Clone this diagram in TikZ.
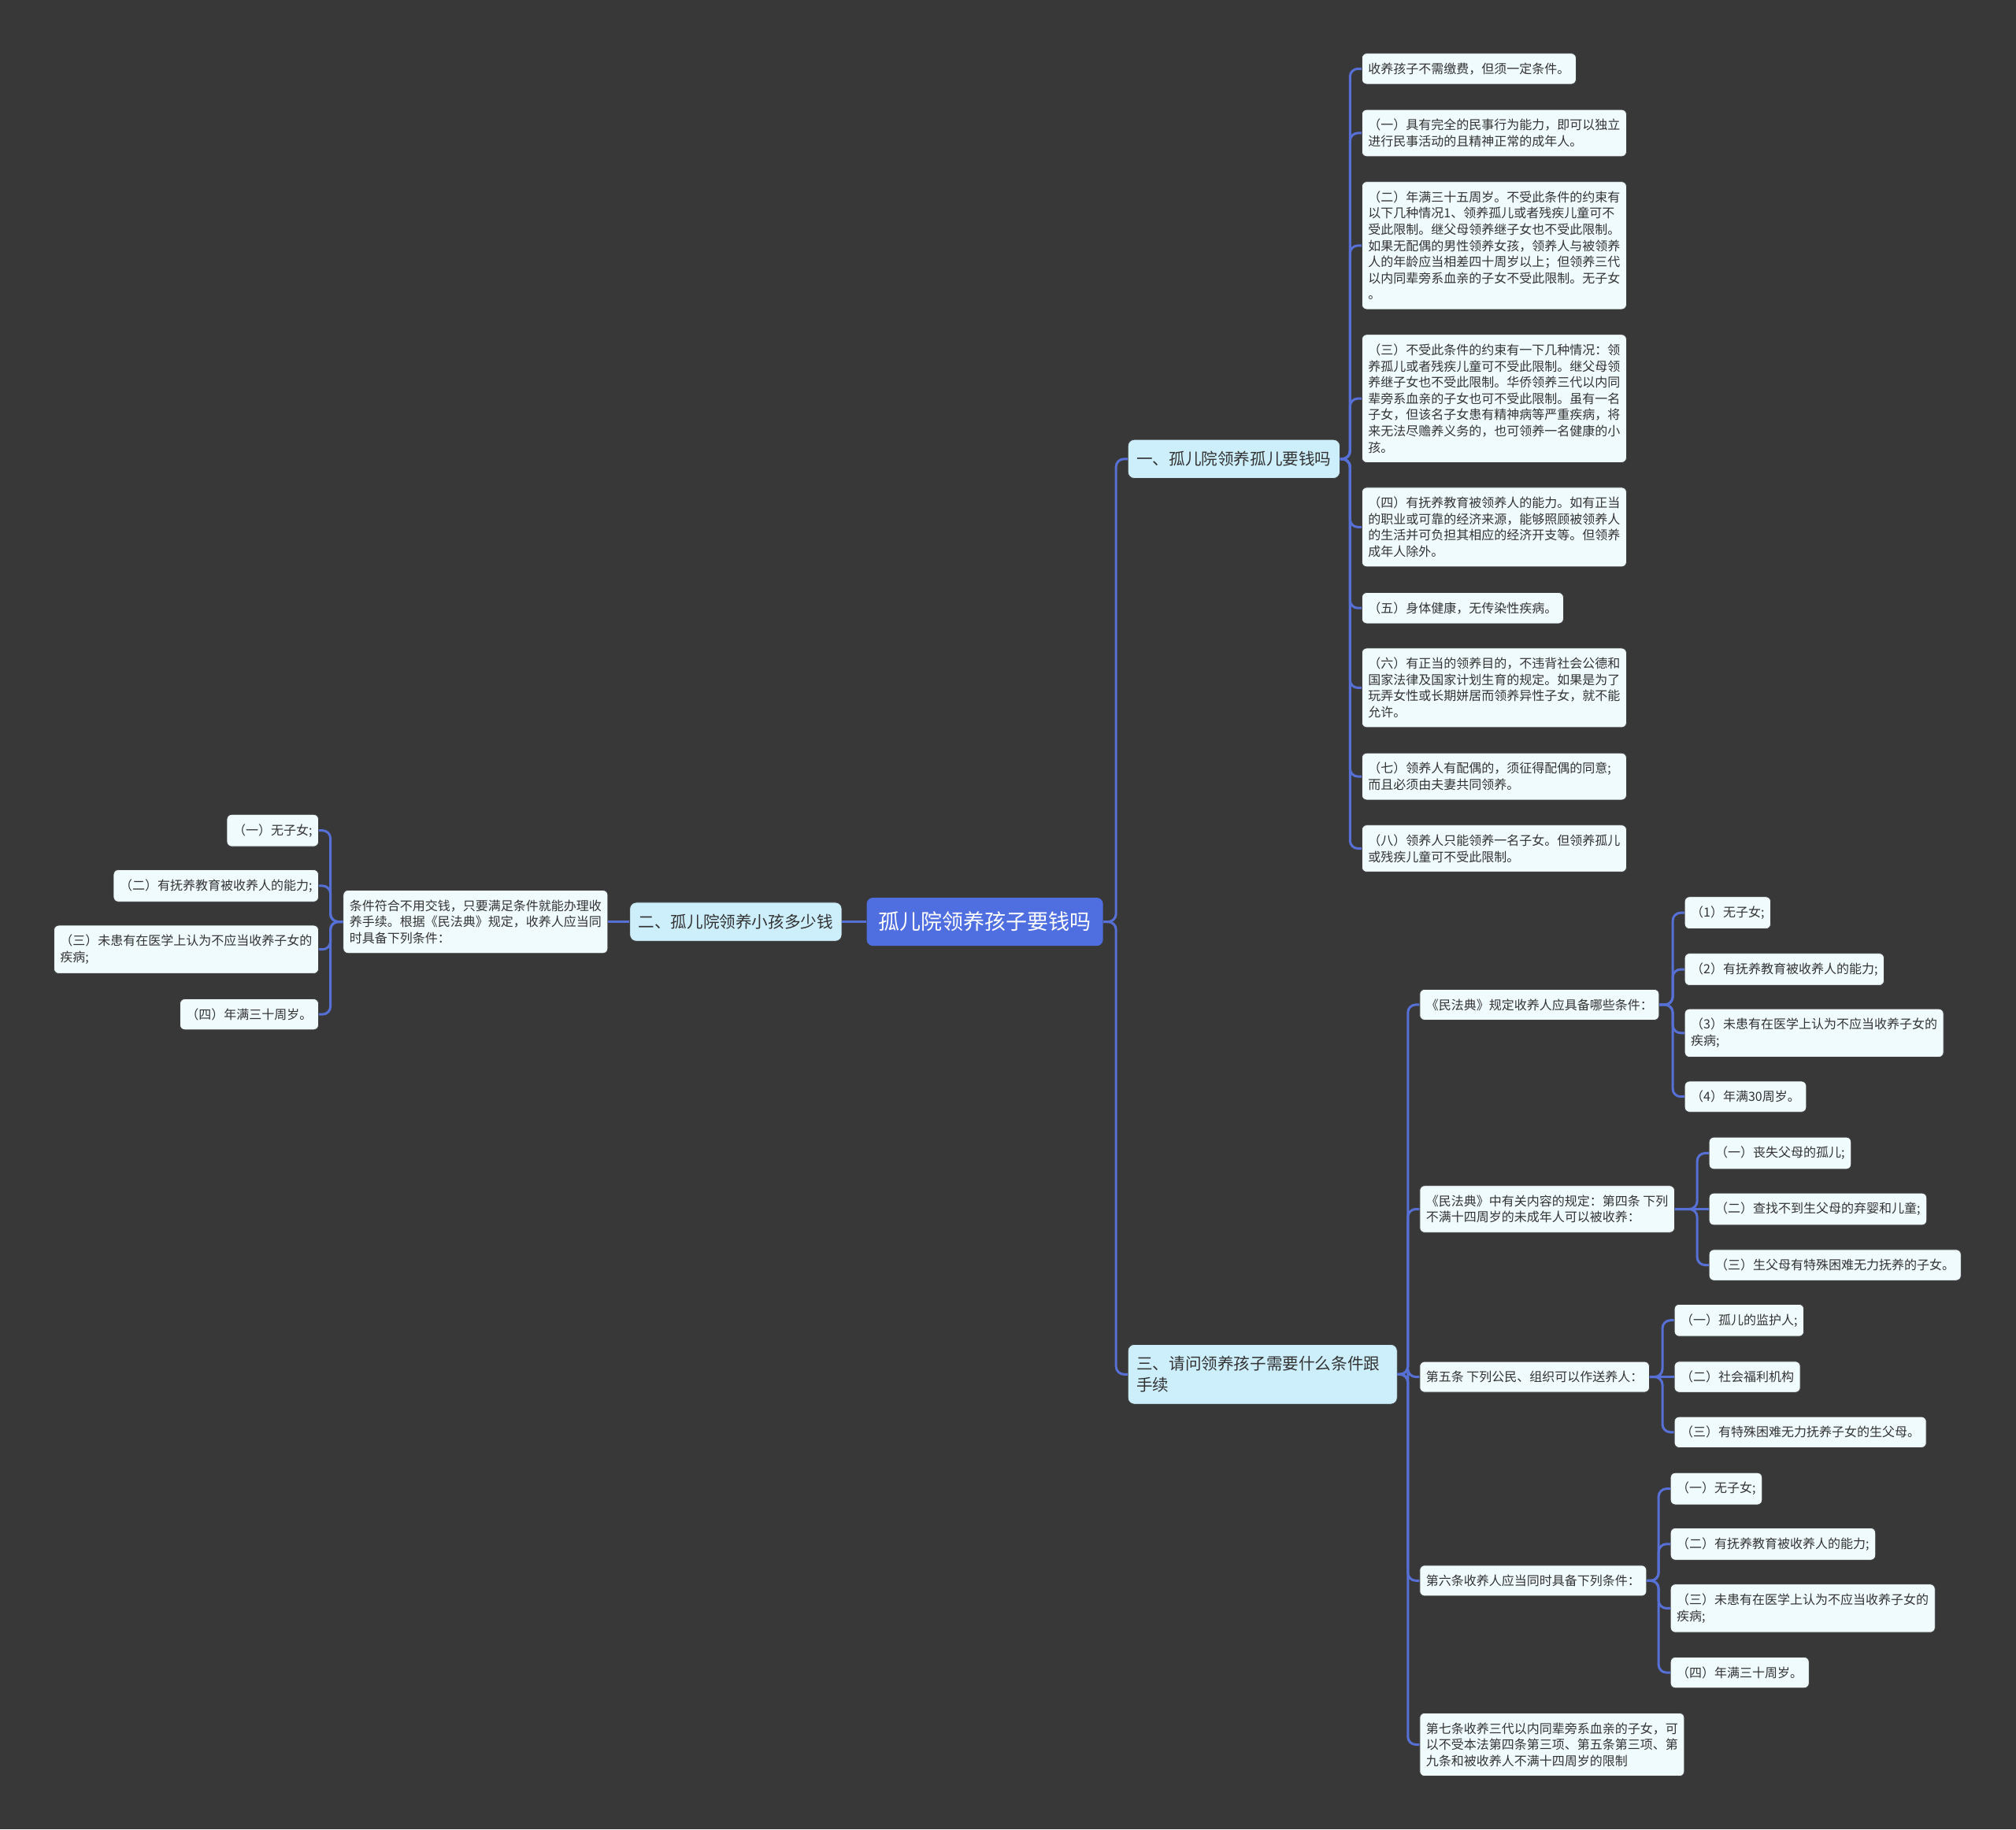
\documentclass[tikz,border=0pt]{standalone}
\usepackage{fontspec}
\newfontfamily\cjk{Noto Sans CJK SC}
\definecolor{bg}{HTML}{393838}
\definecolor{conn}{HTML}{5670D6}
\definecolor{rootc}{HTML}{4F6EE0}
\definecolor{brc}{HTML}{CDEFFB}
\definecolor{leafc}{HTML}{F0FBFD}
\definecolor{txt}{HTML}{333333}
\tikzset{
 leaf/.style={draw=black!75, line width=0.4pt, fill=leafc, rounded corners=3pt, inner xsep=4pt, inner ysep=6pt, font=\cjk\fontsize{8}{10.3}\selectfont, text=txt, align=left},
 wide/.style={text width=160pt},
 branch/.style={draw=black!75, line width=0.4pt, fill=brc, rounded corners=4pt, inner xsep=5.5pt, inner ysep=7.5pt, font=\cjk\fontsize{10.3}{13.3}\selectfont, text=txt, align=left},
 rootbox/.style={fill=rootc, rounded corners=4pt, inner xsep=7.5pt, inner ysep=9pt, font=\cjk\fontsize{13.5}{16}\selectfont, text=white},
 link/.style={draw=conn, line width=1.5pt, rounded corners=5pt},
}
\begin{document}
\begin{tikzpicture}[x=0.8163pt, y=-0.8163pt]
\fill[bg] (0,0) rectangle (1568,1423);
\useasboundingbox (0,0) rectangle (1568,1423);

% trunk coordinates
\coordinate (t0) at (868,0);
\coordinate (t1) at (1050,0);
\coordinate (t3) at (1095,0);
\coordinate (tL) at (257,0);
\coordinate (tm1) at (1301,0);
\coordinate (tm2) at (1320,0);
\coordinate (tm3) at (1293,0);
\coordinate (tm4) at (1290,0);

% root and branches
\node[rootbox] (root) at (766,717) {孤儿院领养孩子要钱吗};
\node[branch, anchor=west] (b1) at (877,357) {一、孤儿院领养孤儿要钱吗};
\node[branch, anchor=east] (b2) at (655,717) {二、孤儿院领养小孩多少钱};
\node[branch, anchor=west, text width=160pt] (b3) at (877,1069) {三、请问领养孩子需要什么条件跟\\手续};

% branch 1 children
\node[leaf, anchor=west] (c1) at (1059,53.5) {收养孩子不需缴费，但须一定条件。};
\node[leaf, wide, anchor=west] (c2) at (1059,103.5) {（一）具有完全的民事行为能力，即可以独立\\进行民事活动的且精神正常的成年人。};
\node[leaf, wide, anchor=west] (c3) at (1059,191) {（二）年满三十五周岁。不受此条件的约束有\\以下几种情况1、领养孤儿或者残疾儿童可不\\受此限制。继父母领养继子女也不受此限制。\\如果无配偶的男性领养女孩，领养人与被领养\\人的年龄应当相差四十周岁以上；但领养三代\\以内同辈旁系血亲的子女不受此限制。无子女\\。};
\node[leaf, wide, anchor=west] (c4) at (1059,310) {（三）不受此条件的约束有一下几种情况：领\\养孤儿或者残疾儿童可不受此限制。继父母领\\养继子女也不受此限制。华侨领养三代以内同\\辈旁系血亲的子女也可不受此限制。虽有一名\\子女，但该名子女患有精神病等严重疾病，将\\来无法尽赡养义务的，也可领养一名健康的小\\孩。};
\node[leaf, wide, anchor=west] (c5) at (1059,410) {（四）有抚养教育被领养人的能力。如有正当\\的职业或可靠的经济来源，能够照顾被领养人\\的生活并可负担其相应的经济开支等。但领养\\成年人除外。};
\node[leaf, anchor=west] (c6) at (1059,473) {（五）身体健康，无传染性疾病。};
\node[leaf, wide, anchor=west] (c7) at (1059,535) {（六）有正当的领养目的，不违背社会公德和\\国家法律及国家计划生育的规定。如果是为了\\玩弄女性或长期姘居而领养异性子女，就不能\\允许。};
\node[leaf, wide, anchor=west] (c8) at (1059,604) {（七）领养人有配偶的，须征得配偶的同意;\\而且必须由夫妻共同领养。};
\node[leaf, wide, anchor=west] (c9) at (1059,660) {（八）领养人只能领养一名子女。但领养孤儿\\或残疾儿童可不受此限制。};

% branch 2
\node[leaf, anchor=east] (l1) at (473,717) {条件符合不用交钱，只要满足条件就能办理收\\养手续。根据《民法典》规定，收养人应当同\\时具备下列条件：};
\node[leaf, anchor=east] (la) at (248,646) {（一）无子女;};
\node[leaf, anchor=east] (lb) at (248,689) {（二）有抚养教育被收养人的能力;};
\node[leaf, anchor=east] (lc) at (248,738.5) {（三）未患有在医学上认为不应当收养子女的\\疾病;};
\node[leaf, anchor=east] (ld) at (248,789) {（四）年满三十周岁。};

% branch 3 children
\node[leaf, anchor=west] (m1) at (1104,781.5) {《民法典》规定收养人应具备哪些条件：};
\node[leaf, anchor=west] (m1a) at (1310,710) {（1）无子女;};
\node[leaf, anchor=west] (m1b) at (1310,754) {（2）有抚养教育被收养人的能力;};
\node[leaf, anchor=west] (m1c) at (1310,803.5) {（3）未患有在医学上认为不应当收养子女的\\疾病;};
\node[leaf, anchor=west] (m1d) at (1310,853) {（4）年满30周岁。};

\node[leaf, anchor=west] (m2) at (1104,940.5) {《民法典》中有关内容的规定：第四条 下列\\不满十四周岁的未成年人可以被收养：};
\node[leaf, anchor=west] (m2a) at (1329,897) {（一）丧失父母的孤儿;};
\node[leaf, anchor=west] (m2b) at (1329,940.5) {（二）查找不到生父母的弃婴和儿童;};
\node[leaf, anchor=west] (m2c) at (1329,984) {（三）生父母有特殊困难无力抚养的子女。};

\node[leaf, anchor=west] (m3) at (1104,1071) {第五条 下列公民、组织可以作送养人：};
\node[leaf, anchor=west] (m3a) at (1302,1027) {（一）孤儿的监护人;};
\node[leaf, anchor=west] (m3b) at (1302,1071) {（二）社会福利机构};
\node[leaf, anchor=west] (m3c) at (1302,1114) {（三）有特殊困难无力抚养子女的生父母。};

\node[leaf, anchor=west] (m4) at (1104,1229.5) {第六条收养人应当同时具备下列条件：};
\node[leaf, anchor=west] (m4a) at (1299,1158) {（一）无子女;};
\node[leaf, anchor=west] (m4b) at (1299,1201) {（二）有抚养教育被收养人的能力;};
\node[leaf, anchor=west] (m4c) at (1299,1251) {（三）未患有在医学上认为不应当收养子女的\\疾病;};
\node[leaf, anchor=west] (m4d) at (1299,1301) {（四）年满三十周岁。};

\node[leaf, anchor=west] (m5) at (1104,1357) {第七条收养三代以内同辈旁系血亲的子女，可\\以不受本法第四条第三项、第五条第三项、第\\九条和被收养人不满十四周岁的限制};

% connectors
\draw[link] (root.east) -- (root.east -| t0) |- (b1.west);
\draw[link] (root.east) -- (root.east -| t0) |- (b3.west);
\draw[link] (root.west) -- (b2.east);
\draw[link] (b2.west) -- (l1.east);
\foreach \n in {la,lb,lc,ld}
  \draw[link] (l1.west) -- (l1.west -| tL) |- (\n.east);
\foreach \i in {1,...,9}
  \draw[link] (b1.east) -- (b1.east -| t1) |- (c\i.west);
\foreach \n in {m1,m2,m3,m4,m5}
  \draw[link] (b3.east) -- (b3.east -| t3) |- (\n.west);
\foreach \n in {m1a,m1b,m1c,m1d}
  \draw[link] (m1.east) -- (m1.east -| tm1) |- (\n.west);
\foreach \n in {m2a,m2c}
  \draw[link] (m2.east) -- (m2.east -| tm2) |- (\n.west);
\draw[link] (m2.east) -- (m2b.west);
\foreach \n in {m3a,m3c}
  \draw[link] (m3.east) -- (m3.east -| tm3) |- (\n.west);
\draw[link] (m3.east) -- (m3b.west);
\foreach \n in {m4a,m4b,m4c,m4d}
  \draw[link] (m4.east) -- (m4.east -| tm4) |- (\n.west);
\end{tikzpicture}
\end{document}
